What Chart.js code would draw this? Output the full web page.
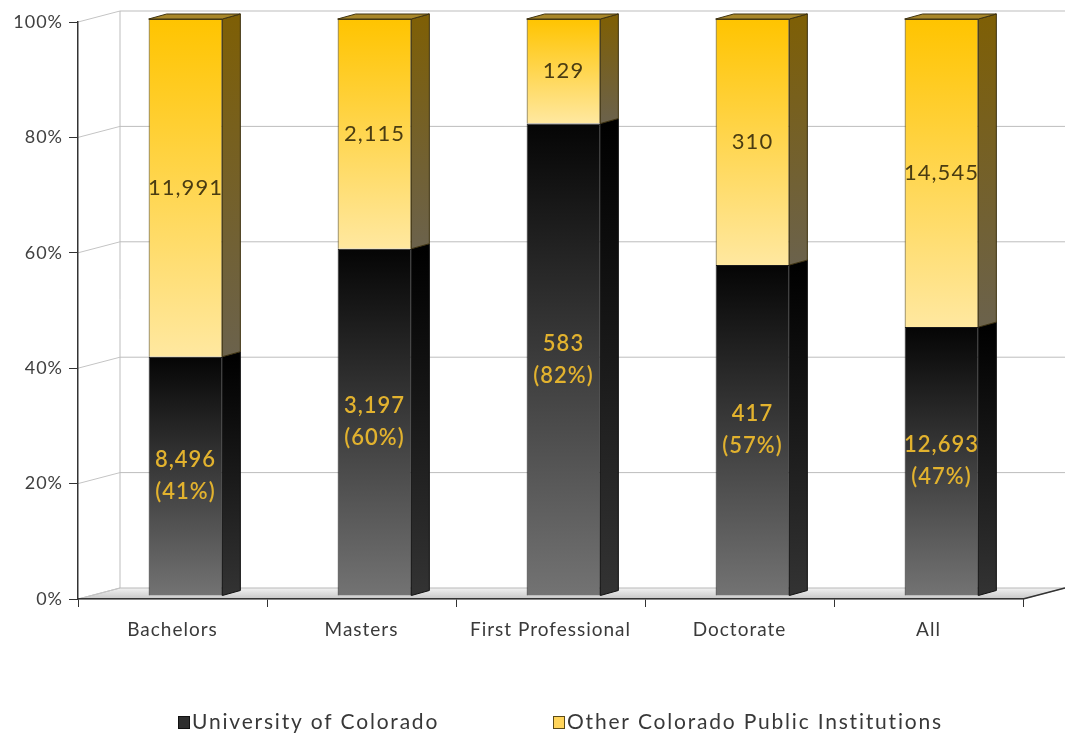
<!DOCTYPE html>
<html>
<head>
<meta charset="utf-8">
<script src="https://cdn.jsdelivr.net/npm/chart.js@4.4.0/dist/chart.umd.min.js"></script>
<style>
  html, body { margin: 0; padding: 0; background: #fff; }
  #myChart { display: block; }
</style>
</head>
<body>
<canvas id="myChart" width="1065" height="745"></canvas>
<script>
// data
const categories = ['Bachelors', 'Masters', 'First Professional', 'Doctorate', 'All'];
const cuCounts = [8496, 3197, 583, 417, 12693];
const otherCounts = [11991, 2115, 129, 310, 14545];
const seriesNames = ['University of Colorado', 'Other Colorado Public Institutions'];
const yTickStep = 20;

// 100% stacking
const cuPct = cuCounts.map((v, i) => v / (v + otherCounts[i]) * 100);
const otherPct = otherCounts.map((v, i) => v / (cuCounts[i] + v) * 100);

const FONT = 'Lato, "Open Sans", sans-serif';
const shiftX = 13, shiftY = -3;     // bars sit a bit behind the front axis
const depthX = 18, depthY = -5;     // bar depth
const wallX = 42, wallY = -11;      // back wall offset

function segGradient(c, top, bottom) {
    const chart = c.chart;
    if (!chart.chartArea) return top;
    const ys = chart.scales.y;
    const i = c.dataIndex;
    const lo = c.datasetIndex === 0 ? 0 : cuPct[i];
    const hi = c.datasetIndex === 0 ? cuPct[i] : 100;
    const g = chart.ctx.createLinearGradient(0, ys.getPixelForValue(hi), 0, ys.getPixelForValue(lo));
    g.addColorStop(0, top);
    g.addColorStop(1, bottom);
    return g;
}

const spacing = {
    id: 'spacing',
    beforeUpdate(chart) { chart.ctx.letterSpacing = '1px'; },
    beforeDraw(chart) { chart.ctx.letterSpacing = '1px'; }
};

const backWall = {
    id: 'backWall',
    beforeDraw(chart) {
        const { ctx, chartArea: a, scales: { y } } = chart;
        const y0 = y.getPixelForValue(0);
        ctx.save();
        // floor
        const g = ctx.createLinearGradient(0, y0 + wallY, 0, y0);
        g.addColorStop(0, '#f2f2f2');
        g.addColorStop(1, '#c8c8c8');
        ctx.beginPath();
        ctx.moveTo(a.left, y0);
        ctx.lineTo(a.right, y0);
        ctx.lineTo(a.right + wallX, y0 + wallY);
        ctx.lineTo(a.left + wallX, y0 + wallY);
        ctx.closePath();
        ctx.fillStyle = g;
        ctx.fill();
        ctx.lineWidth = 1;
        ctx.strokeStyle = '#b8b8b8';
        ctx.stroke();
        ctx.beginPath();
        ctx.moveTo(a.right, y0);
        ctx.lineTo(a.right + wallX, y0 + wallY);
        ctx.strokeStyle = '#333';
        ctx.lineWidth = 1.5;
        ctx.stroke();
        // grid on the back wall
        ctx.lineWidth = 1;
        y.ticks.forEach(t => {
            const py = y.getPixelForValue(t.value);
            ctx.beginPath();
            ctx.moveTo(a.left, py);
            ctx.lineTo(a.left + wallX, py + wallY);
            ctx.strokeStyle = '#c4c4c4';
            ctx.stroke();
            if (t.value > 0) {
                ctx.beginPath();
                ctx.moveTo(a.left + wallX, py + wallY);
                ctx.lineTo(chart.width, py + wallY);
                ctx.strokeStyle = '#bdbdbd';
                ctx.stroke();
            }
        });
        ctx.beginPath();
        ctx.moveTo(a.left + wallX, y.getPixelForValue(100) + wallY);
        ctx.lineTo(a.left + wallX, y0 + wallY);
        ctx.strokeStyle = '#bdbdbd';
        ctx.stroke();
        ctx.restore();
    }
};

const bars3d = {
    id: 'bars3d',
    beforeDatasetsDraw(chart) {
        chart.ctx.save();
        chart.ctx.translate(shiftX, shiftY);
    },
    afterDatasetsDraw(chart) {
        const ctx = chart.ctx;
        const last = chart.data.datasets.length - 1;
        chart.data.datasets.forEach((ds, di) => {
            const meta = chart.getDatasetMeta(di);
            meta.data.forEach((bar, i) => {
                const { x, y, base, width } = bar.getProps(['x', 'y', 'base', 'width'], true);
                const r = x + width / 2, l = x - width / 2;
                // side face
                const sg = ctx.createLinearGradient(0, y, 0, base);
                if (di === 0) { sg.addColorStop(0, '#000'); sg.addColorStop(1, '#333'); }
                else { sg.addColorStop(0, '#7e5f06'); sg.addColorStop(1, '#6b624c'); }
                ctx.beginPath();
                ctx.moveTo(r, y);
                ctx.lineTo(r + depthX, y + depthY);
                ctx.lineTo(r + depthX, base + depthY);
                ctx.lineTo(r, base);
                ctx.closePath();
                ctx.fillStyle = sg;
                ctx.fill();
                ctx.lineWidth = 1;
                ctx.strokeStyle = di === 0 ? '#111' : '#3e3210';
                ctx.stroke();
                // top face
                if (di === last) {
                    ctx.beginPath();
                    ctx.moveTo(l, y);
                    ctx.lineTo(l + depthX, y + depthY);
                    ctx.lineTo(r + depthX, y + depthY);
                    ctx.lineTo(r, y);
                    ctx.closePath();
                    ctx.fillStyle = '#a8872a';
                    ctx.fill();
                    ctx.strokeStyle = '#3e3210';
                    ctx.stroke();
                }
                // value labels
                const cy = (y + base) / 2;
                ctx.textAlign = 'center';
                ctx.textBaseline = 'middle';
                if (di === 0) {
                    ctx.font = '600 22px ' + FONT;
                    ctx.fillStyle = '#e2b22e';
                    ctx.fillText(cuCounts[i].toLocaleString('en-US'), x, cy - 16);
                    ctx.fillText('(' + Math.round(cuPct[i]) + '%)', x, cy + 16);
                } else {
                    ctx.font = '22px ' + FONT;
                    ctx.fillStyle = '#4a3c12';
                    ctx.fillText(otherCounts[i].toLocaleString('en-US'), x, cy);
                }
            });
        });
        ctx.restore();
    }
};

const bottomLegend = {
    id: 'bottomLegend',
    afterDraw(chart) {
        const ctx = chart.ctx;
        const items = [
            { x: 178, fill: '#2e2e2e', stroke: '#111' },
            { x: 553, fill: '#ffd45a', stroke: '#5a4a18' }
        ];
        ctx.save();
        ctx.font = '21px ' + FONT;
        ctx.letterSpacing = '1.8px';
        ctx.textBaseline = 'middle';
        ctx.textAlign = 'left';
        items.forEach((it, k) => {
            ctx.fillStyle = it.fill;
            ctx.fillRect(it.x, 716, 11, 12);
            ctx.strokeStyle = it.stroke;
            ctx.lineWidth = 1;
            ctx.strokeRect(it.x + 0.5, 716.5, 11, 12);
            ctx.fillStyle = '#383838';
            ctx.fillText(chart.data.datasets[k].label, it.x + 14, 722);
        });
        ctx.restore();
    }
};

const ctx = document.getElementById('myChart').getContext('2d');

const myChart = new Chart(ctx, {
    type: 'bar',
    data: {
        labels: categories,
        datasets: [{
            label: seriesNames[0],
            data: cuPct,
            backgroundColor: c => segGradient(c, '#050505', '#737373'),
            borderColor: '#1a1a1a',
            borderWidth: 1,
            barPercentage: 0.39,
            categoryPercentage: 1
        }, {
            label: seriesNames[1],
            data: otherPct,
            backgroundColor: c => segGradient(c, '#ffc400', '#ffe8a0'),
            borderColor: '#4d3f12',
            borderWidth: 1,
            barPercentage: 0.39,
            categoryPercentage: 1
        }]
    },
    options: {
        responsive: false,
        animation: false,
        layout: { padding: { top: 22, right: 42, left: 0, bottom: 0 } },
        plugins: {
            legend: { display: false },
            tooltip: { enabled: false }
        },
        scales: {
            x: {
                stacked: true,
                offset: true,
                grid: { offset: true, drawOnChartArea: false, tickLength: 8, color: '#333' },
                border: { display: true, color: '#333', width: 1.5 },
                ticks: { color: '#3a3a3a', font: { family: FONT, size: 19 }, padding: 11 },
                afterFit: s => { s.height = 146; }
            },
            y: {
                stacked: true,
                min: 0,
                max: 100,
                grid: { drawOnChartArea: false, tickLength: 9, color: '#333' },
                border: { display: true, color: '#333', width: 1.5 },
                ticks: {
                    stepSize: yTickStep,
                    color: '#404040',
                    font: { family: FONT, size: 18 },
                    padding: 6,
                    callback: v => v + '%'
                },
                afterFit: s => { s.width = 78; }
            }
        }
    },
    plugins: [spacing, backWall, bars3d, bottomLegend]
});
</script>
</body>
</html>
